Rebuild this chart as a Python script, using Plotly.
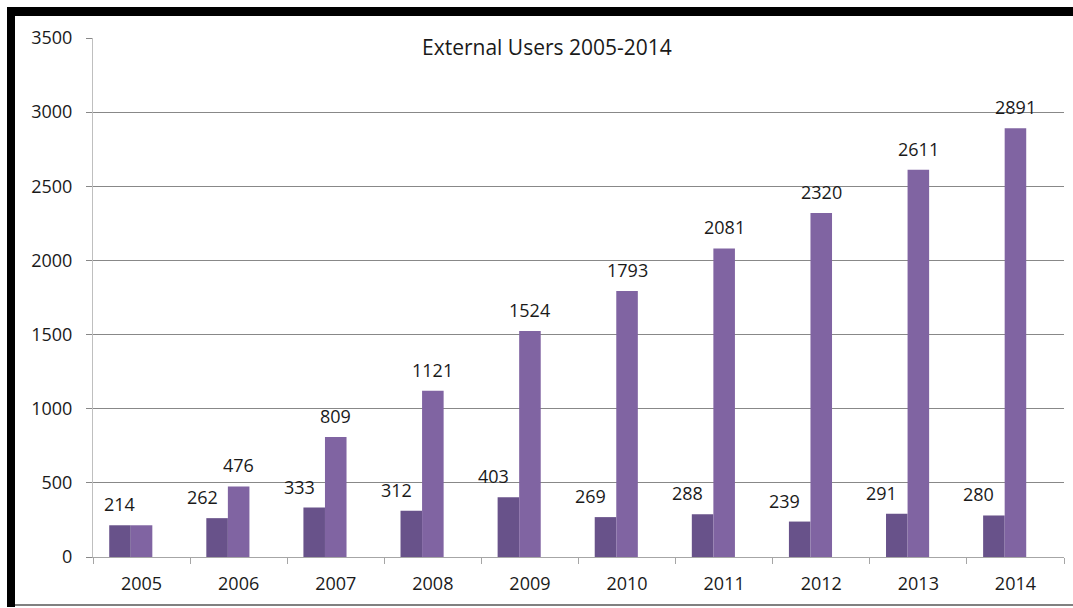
import plotly.graph_objects as go

years = ["2005", "2006", "2007", "2008", "2009", "2010", "2011", "2012", "2013", "2014"]
new_users = [214, 262, 333, 312, 403, 269, 288, 239, 291, 280]
total_users = [214, 476, 809, 1121, 1524, 1793, 2081, 2320, 2611, 2891]
y_ticks = [0, 500, 1000, 1500, 2000, 2500, 3000, 3500]
title_text = "External Users 2005-2014"

DARK = "#68528A"
LIGHT = "#8064A2"
FONT = "Open Sans"
TXT = "#1a1a1a"
FS = 18

W, H = 1073, 608
L, R, T, B = 93, 9, 38, 51
pw = W - L - R
ph = H - T - B

def px(x):
    return (x - L) / pw

def py(y):
    return (H - B - y) / ph

fig = go.Figure()
bw = 0.222
fig.add_trace(go.Bar(x=years, y=new_users, width=bw, offset=-0.333,
                     marker=dict(color=DARK, line=dict(width=0)), name="New"))
fig.add_trace(go.Bar(x=years, y=total_users, width=bw, offset=-0.111,
                     marker=dict(color=LIGHT, line=dict(width=0)), name="Total"))

lab_font = dict(family=FONT, size=FS, color=TXT)
ann = []
for i, (yr, a, b) in enumerate(zip(years, new_users, total_users)):
    if a == b:
        ann.append(dict(x=i - 0.222, y=a, xref="x", yref="y", text=str(a), showarrow=False,
                        yanchor="bottom", yshift=7, font=lab_font))
    else:
        ann.append(dict(x=i - 0.222, y=a, xref="x", yref="y", text=str(a), showarrow=False,
                        yanchor="bottom", yshift=7, xshift=-15, font=lab_font))
        ann.append(dict(x=i, y=b, xref="x", yref="y", text=str(b), showarrow=False,
                        yanchor="bottom", yshift=7, font=lab_font))
ann.append(dict(x=px(547), y=py(47), xref="paper", yref="paper", text=title_text, showarrow=False,
                xanchor="center", yanchor="middle", font=dict(family=FONT, size=21, color=TXT)))

shapes = [
    dict(type="rect", xref="paper", yref="paper", x0=px(7), x1=px(15), y0=py(607), y1=py(7),
         fillcolor="black", line=dict(width=0), layer="above"),
    dict(type="rect", xref="paper", yref="paper", x0=px(7), x1=px(1073), y0=py(16), y1=py(7),
         fillcolor="black", line=dict(width=0), layer="above"),
    dict(type="line", xref="paper", yref="paper", x0=px(15), x1=px(1073), y0=py(605), y1=py(605),
         line=dict(color="#808080", width=2), layer="above"),
]

fig.update_layout(
    width=W, height=H,
    margin=dict(l=L, r=R, t=T, b=B),
    paper_bgcolor="white", plot_bgcolor="white",
    showlegend=False, barmode="overlay",
    annotations=ann, shapes=shapes,
    font=dict(family=FONT, size=FS, color=TXT),
    xaxis=dict(type="category", range=[-0.5, 9.5], showgrid=False,
               showline=True, linecolor="#a6a6a6", linewidth=1,
               ticks="outside", tickson="boundaries", ticklen=6, tickcolor="#a6a6a6",
               tickfont=dict(family=FONT, size=FS, color=TXT), ticklabelstandoff=10),
    yaxis=dict(range=[0, 3500], tickvals=y_ticks, showgrid=True, gridcolor="#888888", gridwidth=1,
               showline=True, linecolor="#bfbfbf", linewidth=1, zeroline=False,
               ticks="outside", ticklen=6, tickcolor="#888888",
               tickfont=dict(family=FONT, size=FS, color=TXT), ticklabelstandoff=10),
)

fig.write_html("out.html", config={"displayModeBar": False},
               post_script="document.body.style.margin='0';document.body.style.overflow='hidden';")
